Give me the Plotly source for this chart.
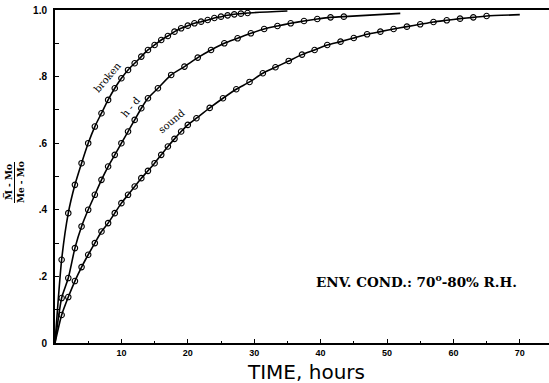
import plotly.graph_objects as go

# ---------------- data ----------------
broken_t = [1, 2, 3, 4, 5, 6, 7, 8, 9, 10, 11, 12, 13, 14, 15, 16, 17, 18, 19, 20,
            21, 22, 23, 24, 25, 26, 27, 28, 29]
broken_y = [0.25, 0.39, 0.475, 0.54, 0.60, 0.65, 0.69, 0.73, 0.765, 0.795, 0.82, 0.84,
            0.86, 0.88, 0.895, 0.91, 0.922, 0.935, 0.945, 0.953, 0.96, 0.965, 0.97,
            0.976, 0.98, 0.984, 0.987, 0.989, 0.991]
broken_end = (35, 0.997)

hd_t = [1, 2, 3, 4, 5, 6, 7, 8, 9, 10, 11, 12, 13, 14, 15.5, 17.5, 19.5, 21.5, 23.5,
        25.5, 27.5, 29.5, 31.5, 33.5, 35.5, 37.5, 39.5, 41.5, 43.5]
hd_y = [0.135, 0.195, 0.285, 0.35, 0.40, 0.445, 0.49, 0.53, 0.565, 0.60, 0.635, 0.67,
        0.705, 0.735, 0.765, 0.805, 0.83, 0.857, 0.88, 0.90, 0.915, 0.93, 0.943, 0.952,
        0.96, 0.967, 0.973, 0.978, 0.98]
hd_end = (52, 0.99)

sound_t = [1, 2, 3, 4, 5, 6, 7, 8, 9, 10, 11, 12, 13, 14, 15, 16, 17, 18, 19, 20,
           21.3, 23.3, 25.3, 27.3, 29.3, 31.3, 33.2, 35.2, 37.2, 39.1, 41, 43, 45, 47,
           49, 51, 53, 55, 57, 59, 61, 63, 65]
sound_y = [0.084, 0.138, 0.186, 0.228, 0.265, 0.30, 0.335, 0.36, 0.39, 0.42, 0.445,
           0.47, 0.495, 0.517, 0.54, 0.565, 0.59, 0.613, 0.635, 0.655, 0.675, 0.706,
           0.735, 0.762, 0.784, 0.81, 0.828, 0.847, 0.866, 0.88, 0.895, 0.905, 0.916,
           0.927, 0.935, 0.943, 0.95, 0.957, 0.964, 0.969, 0.974, 0.978, 0.982]
sound_end = (70, 0.986)

x_ticks = [10, 20, 30, 40, 50, 60, 70]
y_ticks = [0, 0.2, 0.4, 0.6, 0.8, 1.0]
y_tick_labels = ["0", ".2", ".4", ".6", ".8", "1.0"]

series = [
    ("broken", broken_t, broken_y, broken_end),
    ("h - d", hd_t, hd_y, hd_end),
    ("sound", sound_t, sound_y, sound_end),
]

# ---------------- figure ----------------
W, H = 549, 383
L, R, T, B = 55, 0, 10, 40
PX_PER_H = 6.64
x_max = (W - L - R) / PX_PER_H

fig = go.Figure()
for name, t, y, end in series:
    fig.add_trace(go.Scatter(
        x=[0] + t + [end[0]], y=[0] + y + [end[1]],
        mode="lines", line=dict(color="black", width=1.6, shape="spline", smoothing=0.6),
        hoverinfo="skip", showlegend=False))
    fig.add_trace(go.Scatter(
        x=t, y=y, mode="markers", name=name,
        marker=dict(symbol="circle-open", size=5.5, color="black", line=dict(width=1.1)),
        cliponaxis=False, showlegend=False))

tick_font = dict(family="Liberation Sans, Arial, sans-serif", size=10, color="black", weight="bold")

fig.update_xaxes(range=[0, x_max], tickvals=x_ticks, ticks="inside", ticklen=4,
                 tickwidth=1, tickcolor="black", showline=True, linecolor="black",
                 linewidth=2, mirror=True, showgrid=False, zeroline=False,
                 tickfont=dict(family="Liberation Sans, Arial, sans-serif", size=9,
                               color="black", weight="bold"),
                 minor=dict(dtick=5, ticks="inside", ticklen=2, tickcolor="black", showgrid=False))
fig.update_yaxes(range=[0, 1], tickvals=y_ticks, ticktext=y_tick_labels, ticks="inside",
                 ticklen=4, tickwidth=1, tickcolor="black", showline=True,
                 linecolor="black", linewidth=2, showgrid=False, zeroline=False,
                 tickfont=tick_font, ticklabelstandoff=4,
                 minor=dict(dtick=0.1, ticks="inside", ticklen=4, tickcolor="black", showgrid=False))

serif = "DejaVu Serif, Liberation Serif, serif"


def paper_x(px):
    return (px - L) / (W - L - R)


def paper_y(py):
    return (H - B - py) / (H - T - B)


def note(px, py, text, font, angle=0):
    fig.add_annotation(x=paper_x(px), y=paper_y(py), xref="paper", yref="paper",
                       xanchor="center", yanchor="middle", text=text, showarrow=False,
                       textangle=angle, font=font)


# curve labels
labels = [("broken", 107, 77, -50), ("h - d", 130, 107, -50), ("sound", 171, 121, -40)]
for text, px, py, ang in labels:
    note(px, py, text, dict(family=serif, size=10, color="black"), ang)

note(416, 281, "ENV. COND.: 70<sup>o</sup>-80% R.H.",
     dict(family=serif, size=13.5, color="black", weight="bold"))

# x-axis title
note(306, 372, "TIME, hours",
     dict(family="DejaVu Sans, Liberation Sans, sans-serif", size=20, color="black"))

# y-axis title as a fraction
frac_font = dict(family=serif, size=9, color="black", weight="bold")
note(8, 182, "M\u0305 - Mo", frac_font, -90)
note(21, 182, "Me - Mo", frac_font, -90)
fig.add_shape(type="line", xref="paper", yref="paper",
              x0=paper_x(14.5), x1=paper_x(14.5), y0=paper_y(162), y1=paper_y(203),
              line=dict(color="black", width=1))

fig.update_layout(width=W, height=H, margin=dict(l=L, r=R, t=T, b=B),
                  paper_bgcolor="white", plot_bgcolor="white")

fig.write_html("out.html")
